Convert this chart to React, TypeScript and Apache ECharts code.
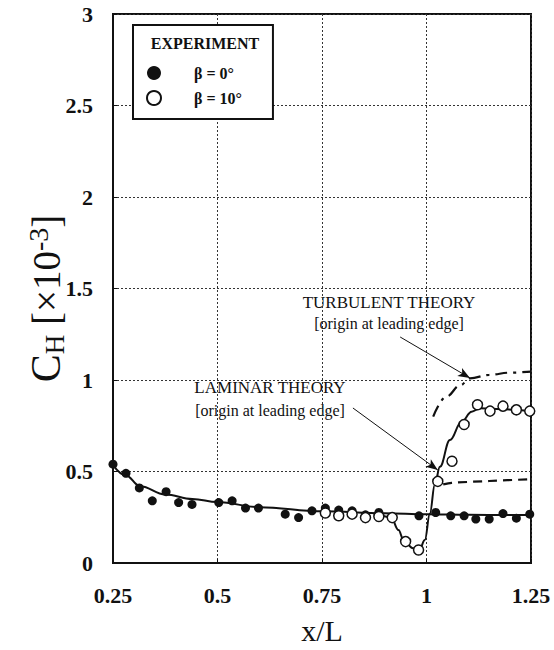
import React, { useEffect, useRef } from "react";
import * as echarts from "echarts";

// Experimental data: beta = 0 deg (filled)
const beta0Points: number[][] = [
  [0.25, 0.54], [0.281, 0.49], [0.313, 0.41], [0.344, 0.34], [0.377, 0.39],
  [0.407, 0.33], [0.439, 0.32], [0.503, 0.33], [0.535, 0.34], [0.567, 0.3],
  [0.598, 0.3], [0.662, 0.267], [0.694, 0.248], [0.726, 0.285], [0.758, 0.3],
  [0.79, 0.289], [0.822, 0.285], [0.854, 0.263], [0.886, 0.276], [0.982, 0.258],
  [1.022, 0.276], [1.058, 0.258], [1.09, 0.258], [1.118, 0.24], [1.15, 0.24],
  [1.183, 0.27], [1.215, 0.245], [1.247, 0.267],
];

// Experimental data: beta = 10 deg (open)
const beta10Points: number[][] = [
  [0.758, 0.273], [0.79, 0.258], [0.822, 0.267], [0.854, 0.248], [0.886, 0.254],
  [0.918, 0.248], [0.95, 0.117], [0.981, 0.071], [1.027, 0.446], [1.061, 0.556],
  [1.09, 0.757], [1.122, 0.865], [1.152, 0.83], [1.183, 0.857], [1.215, 0.837],
  [1.247, 0.83],
];

// Fitted curves
const beta0Curve: number[][] = [
  [0.25, 0.535], [0.28, 0.48], [0.315, 0.42], [0.375, 0.375], [0.44, 0.35],
  [0.5, 0.333], [0.6, 0.305], [0.75, 0.283], [0.9, 0.272], [1.0, 0.266],
  [1.1, 0.263], [1.25, 0.262],
];
const beta10Curve: number[][] = [
  [0.88, 0.272], [0.915, 0.25], [0.933, 0.18], [0.945, 0.126], [0.968, 0.08],
  [0.984, 0.078], [0.996, 0.126], [1.008, 0.27], [1.02, 0.43], [1.032, 0.526],
  [1.056, 0.672], [1.084, 0.772], [1.108, 0.827], [1.128, 0.845], [1.18, 0.84],
  [1.247, 0.83],
];
const laminarTheory: number[][] = [
  [1.04, 0.43], [1.06, 0.438], [1.15, 0.448], [1.25, 0.458],
];
const turbulentTheory: number[][] = [
  [1.016, 0.8], [1.048, 0.91], [1.08, 0.97], [1.104, 1.009], [1.15, 1.028],
  [1.2, 1.04], [1.25, 1.046],
];

// Annotation arrows (from text to curve), in data units
const turbulentArrow: number[][] = [[0.937, 1.235], [1.104, 1.011]];
const laminarArrow: number[][] = [[0.824, 0.847], [1.027, 0.508]];

const xTicks = [0.25, 0.5, 0.75, 1, 1.25];
const yTicks = [0, 0.5, 1, 1.5, 2, 2.5, 3];

const SERIF = "'Liberation Serif', 'DejaVu Serif', serif";

export default function App() {
  const ref = useRef<HTMLDivElement>(null);

  useEffect(() => {
    document.body.style.margin = "0";
    if (!ref.current) return;
    const chart = echarts.init(ref.current, undefined, { renderer: "svg" });

    const arrowMark = (pts: number[][]) => ({
      silent: true,
      symbol: ["none", "arrow"],
      symbolSize: [7, 12],
      label: { show: false },
      lineStyle: { color: "#111", width: 1, type: "solid" },
      data: [[{ coord: pts[0] }, { coord: pts[1] }]],
    });

    const annot = (text: string, x: number, y: number, size: number) => ({
      type: "text",
      x,
      y,
      style: {
        text,
        fontFamily: SERIF,
        fontSize: size,
        fill: "#111",
        align: "center",
        verticalAlign: "middle",
      },
    });

    chart.setOption({
      animation: false,
      backgroundColor: "#fff",
      grid: {
        left: 113,
        right: 23,
        top: 14,
        bottom: 87,
        show: true,
        borderColor: "#111",
        borderWidth: 2,
        backgroundColor: "transparent",
      },
      xAxis: {
        type: "value",
        min: xTicks[0],
        max: xTicks[xTicks.length - 1],
        interval: 0.25,
        name: "x/L",
        nameLocation: "middle",
        nameGap: 52,
        nameMoveOverlap: false,
        nameTextStyle: { fontFamily: SERIF, fontSize: 30, color: "#111" },
        axisLine: { show: true, lineStyle: { color: "#111", width: 2 } },
        axisTick: { show: true, inside: true, length: 4, lineStyle: { color: "#111" } },
        axisLabel: {
          fontFamily: SERIF,
          fontSize: 22,
          fontWeight: "bold",
          color: "#111",
          margin: 21,
          showMinLabel: true,
          showMaxLabel: true,
        },
        splitLine: { show: true, lineStyle: { color: "#333", type: [2, 2], width: 1 } },
      },
      yAxis: {
        type: "value",
        min: yTicks[0],
        max: yTicks[yTicks.length - 1],
        interval: 0.5,
        name: "{c|C}{s|H}{n| [×10}{sup|-3}{n|]}",
        nameLocation: "middle",
        nameGap: 45,
        nameMoveOverlap: false,
        nameTextStyle: {
          fontFamily: SERIF,
          color: "#111",
          padding: [0, 20, 0, 0],
          rich: {
            c: { fontFamily: SERIF, fontSize: 42, color: "#111" },
            s: { fontFamily: SERIF, fontSize: 27, color: "#111", verticalAlign: "bottom", padding: [16, 0, 0, 0] },
            n: { fontFamily: SERIF, fontSize: 39, color: "#111" },
            sup: { fontFamily: SERIF, fontSize: 28, color: "#111", verticalAlign: "top", padding: [0, 0, 16, 0] },
          },
        },
        axisLine: { show: true, lineStyle: { color: "#111", width: 2 } },
        axisTick: { show: true, inside: true, length: 4, lineStyle: { color: "#111" } },
        axisLabel: {
          fontFamily: SERIF,
          fontSize: 22,
          fontWeight: "bold",
          color: "#111",
          align: "right",
          margin: 20,
        },
        splitLine: { show: true, lineStyle: { color: "#333", type: [2, 2], width: 1 } },
      },
      legend: {
        show: true,
        orient: "vertical",
        left: 133,
        top: 25,
        padding: [40, 31, 13, 13],
        borderColor: "#111",
        borderWidth: 2,
        backgroundColor: "#fff",
        itemWidth: 14,
        itemHeight: 14,
        itemGap: 9,
        icon: "circle",
        data: ["β = 0°", "β = 10°"],
        textStyle: {
          fontFamily: SERIF,
          fontSize: 16,
          fontWeight: "bold",
          color: "#111",
          padding: [0, 0, 0, 28],
        },
      },
      graphic: [
        {
          type: "text",
          x: 205,
          y: 43,
          z: 100,
          style: {
            text: "EXPERIMENT",
            fontFamily: SERIF,
            fontSize: 16,
            fontWeight: "bold",
            fill: "#111",
            align: "center",
            verticalAlign: "middle",
          },
        },
        annot("TURBULENT THEORY", 389, 302, 17),
        annot("[origin at leading edge]", 389, 323, 16),
        annot("LAMINAR THEORY", 270, 387, 17),
        annot("[origin at leading edge]", 270, 410, 16),
      ],
      series: [
        {
          name: "β = 0° fit",
          type: "line",
          data: beta0Curve,
          smooth: 0.4,
          smoothMonotone: "x",
          showSymbol: false,
          silent: true,
          lineStyle: { color: "#111", width: 2 },
          z: 2,
        },
        {
          name: "β = 10° fit",
          type: "line",
          data: beta10Curve,
          smooth: 0.4,
          smoothMonotone: "x",
          showSymbol: false,
          silent: true,
          lineStyle: { color: "#111", width: 2 },
          z: 2,
        },
        {
          name: "Laminar theory",
          type: "line",
          data: laminarTheory,
          smooth: 0.3,
          showSymbol: false,
          silent: true,
          lineStyle: { color: "#111", width: 2.2, type: [9, 6] },
          markLine: arrowMark(laminarArrow),
          z: 2,
        },
        {
          name: "Turbulent theory",
          type: "line",
          data: turbulentTheory,
          smooth: 0.4,
          smoothMonotone: "x",
          showSymbol: false,
          silent: true,
          lineStyle: { color: "#111", width: 2.2, type: [12, 6, 3, 6] },
          markLine: arrowMark(turbulentArrow),
          z: 2,
        },
        {
          name: "β = 0°",
          type: "scatter",
          data: beta0Points,
          symbol: "circle",
          symbolSize: 9,
          itemStyle: { color: "#111", opacity: 1 },
          z: 4,
        },
        {
          name: "β = 10°",
          type: "scatter",
          data: beta10Points,
          symbol: "circle",
          symbolSize: 10,
          itemStyle: { color: "#fff", borderColor: "#111", borderWidth: 1.5, opacity: 1 },
          z: 5,
        },
      ],
    });

    return () => chart.dispose();
  }, []);

  return <div ref={ref} style={{ width: 554, height: 650 }} />;
}
